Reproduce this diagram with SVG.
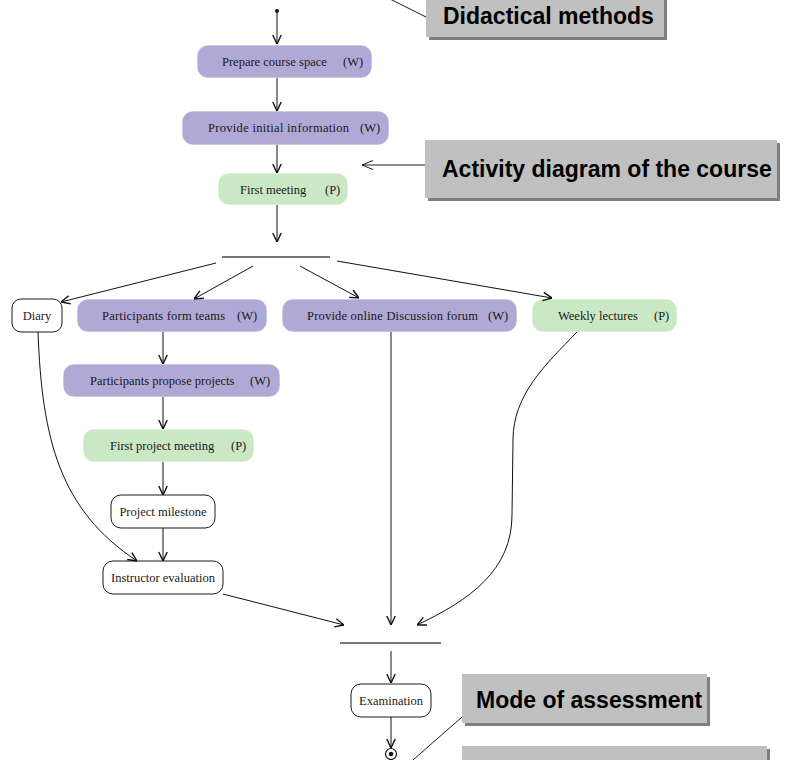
<svg xmlns="http://www.w3.org/2000/svg" width="787" height="760" viewBox="0 0 787 760">
  <defs>
    <style>
      .web { fill: #b0a9d5; stroke: #ffffff; stroke-opacity: 0.7; stroke-width: 1; }
      .pres { fill: #cbe8c4; stroke: #ffffff; stroke-opacity: 0.7; stroke-width: 1; }
      .plain { fill: #ffffff; stroke: #1a1a1a; stroke-width: 1; }
      .lbl { font-family: "Liberation Serif", "Times New Roman", serif; font-size: 12.5px; fill: #1a1a1a; }
      .mid { text-anchor: middle; }
      .conn { fill: none; stroke: #111; stroke-width: 1; }
      .bar { fill: none; stroke: #777; stroke-width: 2; }
      .note { fill: #c0c0c0; }
      .shadow { fill: #7f7f7f; }
      .notetxt { font-family: "Liberation Sans", Arial, sans-serif; font-weight: bold; font-size: 23px; fill: #000; }
      .pointer { fill: none; stroke: #000; stroke-width: 0.9; }
    </style>
    <marker id="arr" viewBox="0 0 10 10" refX="10" refY="5" markerWidth="10" markerHeight="10" markerUnits="userSpaceOnUse" orient="auto">
      <path d="M1,0.8 L10,5 L1,9.2" fill="none" stroke="#111" stroke-width="1.4"/>
    </marker>
    <marker id="thin" viewBox="0 0 12 12" refX="12" refY="6" markerWidth="12" markerHeight="12" markerUnits="userSpaceOnUse" orient="auto">
      <path d="M1,1.5 L12,6 L1,10.5" fill="none" stroke="#000" stroke-width="0.9"/>
    </marker>
  </defs>

  <rect width="787" height="760" fill="#ffffff"/>

  <!-- start / end -->
  <g id="start"><circle cx="277" cy="11" r="2" fill="#111"/></g>
  <g id="end">
    <circle cx="391" cy="754" r="5.5" fill="#fff" stroke="#111" stroke-width="1.2"/>
    <circle cx="391" cy="754" r="2.3" fill="#111"/>
  </g>

  <!-- synchronisation bars -->
  <g id="fork"><path class="bar" d="M222,257 L330,257"/></g>
  <g id="join"><path class="bar" d="M340,643 L441,643" stroke="#555" stroke-width="1.2"/></g>

  <!-- activities -->
  <g id="prepare">
    <rect class="web" x="197" y="45" width="175" height="33" rx="11"/>
    <text class="lbl" x="222" y="66">Prepare course space</text>
    <text class="lbl" x="343" y="66">(W)</text>
  </g>
  <g id="initial-info">
    <rect class="web" x="182" y="111" width="207" height="34" rx="11"/>
    <text class="lbl" x="208" y="132" letter-spacing="0.3">Provide initial information</text>
    <text class="lbl" x="360" y="132">(W)</text>
  </g>
  <g id="first-meeting">
    <rect class="pres" x="218" y="173" width="130" height="32" rx="11"/>
    <text class="lbl" x="240" y="194">First meeting</text>
    <text class="lbl" x="325" y="194">(P)</text>
  </g>
  <g id="diary">
    <rect class="plain" x="12" y="299" width="50" height="33" rx="9"/>
    <text class="lbl mid" x="37" y="320">Diary</text>
  </g>
  <g id="form-teams">
    <rect class="web" x="77" y="299" width="190" height="33" rx="11"/>
    <text class="lbl" x="102" y="320" letter-spacing="0.2">Participants form teams</text>
    <text class="lbl" x="237" y="320">(W)</text>
  </g>
  <g id="forum">
    <rect class="web" x="282" y="299" width="235" height="33" rx="11"/>
    <text class="lbl" x="307" y="320" letter-spacing="0.2">Provide online Discussion forum</text>
    <text class="lbl" x="488" y="320">(W)</text>
  </g>
  <g id="lectures">
    <rect class="pres" x="532" y="299" width="145" height="33" rx="11"/>
    <text class="lbl" x="558" y="320">Weekly lectures</text>
    <text class="lbl" x="654" y="320">(P)</text>
  </g>
  <g id="propose">
    <rect class="web" x="63" y="364" width="217" height="33" rx="11"/>
    <text class="lbl" x="90" y="385">Participants propose projects</text>
    <text class="lbl" x="250" y="385">(W)</text>
  </g>
  <g id="project-meeting">
    <rect class="pres" x="83" y="429" width="171" height="33" rx="11"/>
    <text class="lbl" x="110" y="450">First project meeting</text>
    <text class="lbl" x="231" y="450">(P)</text>
  </g>
  <g id="milestone">
    <rect class="plain" x="111" y="495" width="104" height="33" rx="10"/>
    <text class="lbl mid" x="163" y="516">Project milestone</text>
  </g>
  <g id="evaluation">
    <rect class="plain" x="103" y="561" width="120" height="33" rx="10"/>
    <text class="lbl mid" x="163" y="582">Instructor evaluation</text>
  </g>
  <g id="exam">
    <rect class="plain" x="351" y="684" width="80" height="33" rx="10"/>
    <text class="lbl mid" x="391" y="705">Examination</text>
  </g>

  <!-- control flow -->
  <g id="connectors" class="conn" marker-end="url(#arr)">
    <path d="M277,13 L277,44"/>
    <path d="M277,78 L277,111"/>
    <path d="M277,145 L277,173"/>
    <path d="M277,205 L277,242"/>
    <path d="M216,263 L61,302"/>
    <path d="M253,266 L194,299"/>
    <path d="M300,266 L359,298"/>
    <path d="M337,261 L552,298"/>
    <path d="M163,332 L163,364"/>
    <path d="M163,397 L163,429"/>
    <path d="M163,462 L163,495"/>
    <path d="M163,528 L163,561"/>
    <path d="M38,332 C42,440 60,510 137,561"/>
    <path d="M223,594 L344,625"/>
    <path d="M391,332 L391,625"/>
    <path d="M577,332 C545,365 513,395 513,440 L512,515 C512,570 470,600 417,625"/>
    <path d="M391,651 L391,683"/>
    <path d="M391,717 L391,748"/>
  </g>

  <!-- callouts -->
  <g id="note-methods">
    <path class="pointer" d="M382,-5 L426,17"/>
    <rect class="shadow" x="429" y="-8" width="238" height="48"/>
    <rect class="note" x="426" y="-11" width="238" height="48"/>
    <text class="notetxt" x="443" y="24">Didactical methods</text>
  </g>
  <g id="note-activity">
    <path class="pointer" d="M425,165 L362,165" marker-end="url(#thin)"/>
    <rect class="shadow" x="428" y="143" width="352" height="58"/>
    <rect class="note" x="425" y="140" width="352" height="58"/>
    <text class="notetxt" x="442" y="177">Activity diagram of the course</text>
  </g>
  <g id="note-assessment">
    <path class="pointer" d="M462,717 L413,760"/>
    <rect class="shadow" x="465" y="677" width="245" height="49"/>
    <rect class="note" x="462" y="674" width="245" height="49"/>
    <text class="notetxt" x="476" y="708">Mode of assessment</text>
  </g>
  <g id="note-lower">
    <rect class="shadow" x="465" y="749" width="305" height="30"/>
    <rect class="note" x="462" y="746" width="305" height="30"/>
  </g>
</svg>
